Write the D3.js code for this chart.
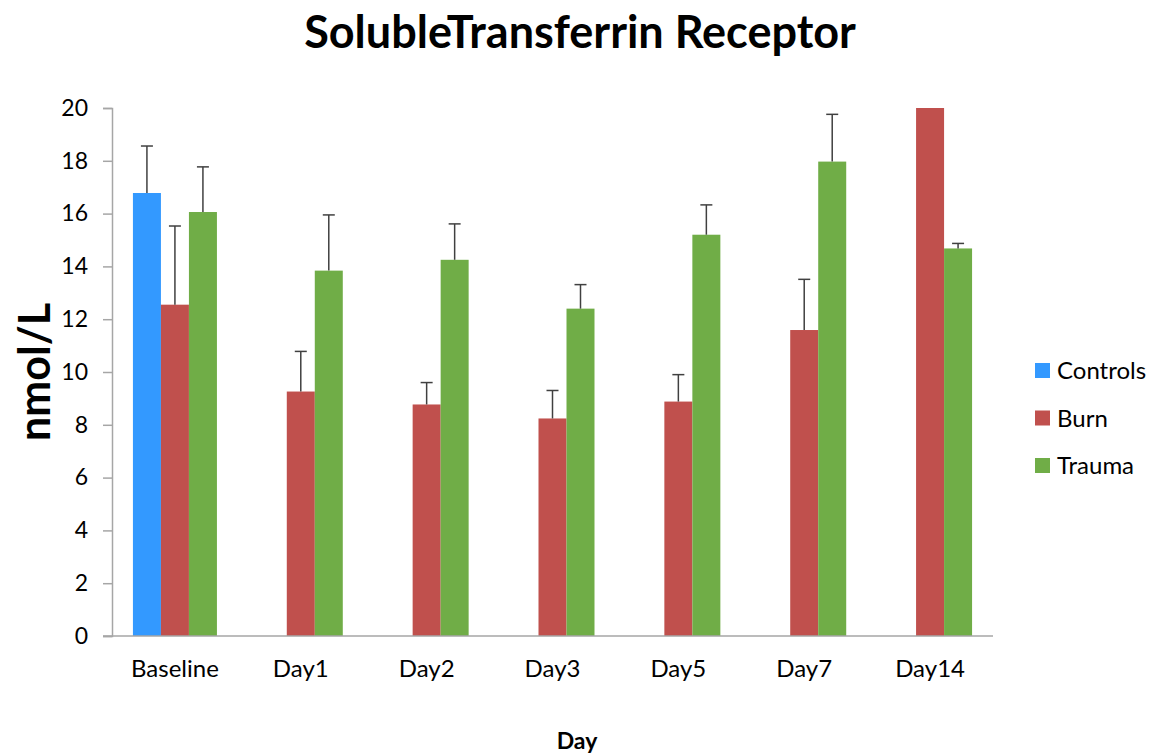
<!DOCTYPE html>
<html>
<head>
<meta charset="utf-8">
<script src="https://cdn.jsdelivr.net/npm/d3@7"></script>
<style>
  body { margin: 0; background: #fff; }
  svg { font-family: Lato, "Open Sans", sans-serif; }
</style>
</head>
<body>
<svg width="1150" height="753"></svg>
<script>
var days = ["Baseline", "Day1", "Day2", "Day3", "Day5", "Day7", "Day14"];
var seriesNames = ["Controls", "Burn", "Trauma"];
var colors = ["#3399ff", "#c0504d", "#70ad47"];

// null = no bar
var controls    = [16.78, null, null, null, null, null, null];
var controlsErr = [1.78, null, null, null, null, null, null];
var burn        = [12.55, 9.26, 8.77, 8.24, 8.88, 11.59, 20];
var burnErr     = [2.98, 1.52, 0.83, 1.06, 1.02, 1.92, null];
var trauma      = [16.06, 13.84, 14.25, 12.40, 15.20, 17.97, 14.68];
var traumaErr   = [1.71, 2.11, 1.36, 0.91, 1.13, 1.79, 0.19];

var yTicks = [0, 2, 4, 6, 8, 10, 12, 14, 16, 18, 20];

var values = [controls, burn, trauma];
var errors = [controlsErr, burnErr, traumaErr];

var svg = d3.select("svg");
var plotLeft = 112, plotRight = 993, plotTop = 108, plotBottom = 636;

var x = d3.scaleBand().domain(days).range([plotLeft, plotRight]);
var xs = d3.scaleBand().domain(seriesNames).range([0, 84]);
var y = d3.scaleLinear().domain([0, 20]).range([plotBottom, plotTop]);

// y axis
var yAxis = svg.append("g")
    .attr("transform", "translate(" + plotLeft + ",0)")
    .call(d3.axisLeft(y).tickValues(yTicks).tickSize(9).tickPadding(15).tickFormat(d3.format("d")));
yAxis.select(".domain").attr("stroke", "#a6a6a6").attr("stroke-width", 1.5);
yAxis.selectAll(".tick line").attr("stroke", "#a6a6a6").attr("stroke-width", 1.5);
yAxis.selectAll(".tick text").attr("font-size", 23).attr("fill", "#000")
    .attr("font-family", "Lato, sans-serif");

// bars
var barData = [];
seriesNames.forEach(function(s, i) {
  days.forEach(function(d, j) {
    if (values[i][j] != null) {
      barData.push({ day: d, series: s, idx: i, v: values[i][j], e: errors[i][j] });
    }
  });
});

var groupOffset = (x.bandwidth() - 84) / 2;

svg.append("g").selectAll("rect")
  .data(barData)
  .enter().append("rect")
    .attr("x", d => x(d.day) + groupOffset + xs(d.series))
    .attr("width", xs.bandwidth())
    .attr("y", d => y(d.v))
    .attr("height", d => y(0) - y(d.v))
    .attr("fill", d => colors[d.idx]);

// error bars
var errG = svg.append("g").attr("stroke", "#404040").attr("stroke-width", 1.5);
barData.filter(d => d.e != null).forEach(function(d) {
  var cx = x(d.day) + groupOffset + xs(d.series) + xs.bandwidth() / 2;
  errG.append("line").attr("x1", cx).attr("x2", cx).attr("y1", y(d.v)).attr("y2", y(d.v + d.e));
  errG.append("line").attr("x1", cx - 6).attr("x2", cx + 6).attr("y1", y(d.v + d.e)).attr("y2", y(d.v + d.e));
});

// x axis
var xAxis = svg.append("g")
    .attr("transform", "translate(0," + plotBottom + ")")
    .call(d3.axisBottom(x).tickSize(0).tickPadding(24));
xAxis.select(".domain").attr("stroke", "#a6a6a6").attr("stroke-width", 1.5)
    .attr("d", "M" + (plotLeft - 9) + ",0H" + plotRight);
xAxis.selectAll(".tick text").attr("font-size", 24).attr("fill", "#000")
    .attr("font-family", "Lato, sans-serif");

// title
svg.append("text").attr("x", 580).attr("y", 48).attr("text-anchor", "middle")
  .attr("font-size", 45).attr("font-weight", "bold").text("SolubleTransferrin Receptor");

// axis titles
svg.append("text").attr("transform", "translate(50,372) rotate(-90)").attr("text-anchor", "middle")
  .attr("font-size", 43).attr("font-weight", "bold").text("nmol/L");
svg.append("text").attr("x", 577).attr("y", 749).attr("text-anchor", "middle")
  .attr("font-size", 23).attr("font-weight", "bold").text("Day");

// legend
var leg = svg.append("g").selectAll("g").data(seriesNames).enter().append("g")
  .attr("transform", (d, i) => "translate(1035," + (371 + i * 47.5) + ")");
leg.append("rect").attr("x", 0).attr("y", -8).attr("width", 15).attr("height", 15)
  .attr("fill", (d, i) => colors[i]);
leg.append("text").attr("x", 22).attr("y", 8).attr("font-size", 24).text(d => d);
</script>
</body>
</html>
